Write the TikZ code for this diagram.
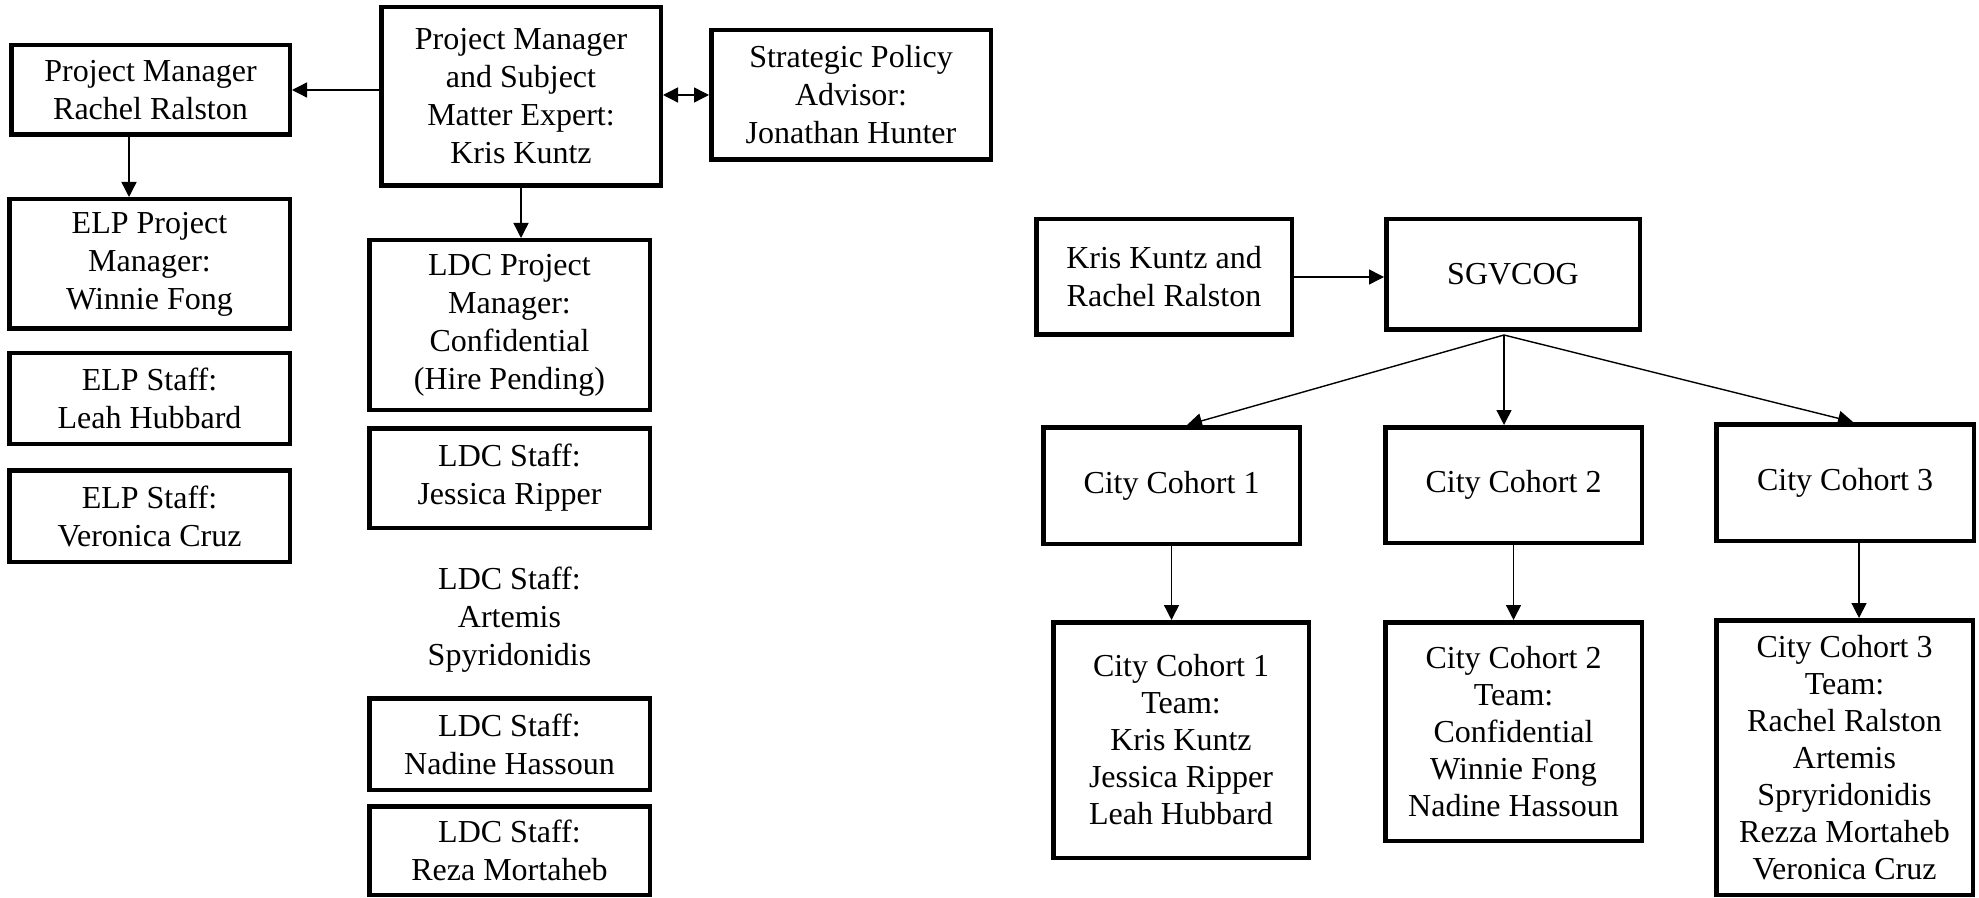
\documentclass[tikz,border=0pt]{standalone}
\usepackage{fontspec}
\setmainfont{Liberation Serif}
\usetikzlibrary{arrows.meta}
\begin{document}
\begin{tikzpicture}[x=0.5pt,y=-0.5pt,
  box/.style={draw=black, line width=2.25pt, inner sep=0pt, align=center,
    font=\fontsize{16pt}{19pt}\selectfont},
  plain/.style={inner sep=0pt, align=center, font=\fontsize{16pt}{19pt}\selectfont},
  teamtxt/.style={font=\fontsize{16pt}{18.5pt}\selectfont},
  arr/.style={line width=0.7pt, -{Triangle[length=7.5pt,width=7.5pt]}},
  dbl/.style={line width=0.7pt, {Triangle[length=7.5pt,width=7.5pt]}-{Triangle[length=7.5pt,width=7.5pt]}}]
\useasboundingbox (0,0) rectangle (1979,898);

% left hierarchy
\node[box, minimum width=139.25pt, minimum height=44.75pt] (rachel) at (150.5,90) {Project Manager\\Rachel Ralston};
\node[box, minimum width=139.75pt, minimum height=89.25pt] (kris) at (521,96.5) {Project Manager\\and Subject\\Matter Expert:\\Kris Kuntz};
\node[box, minimum width=139.75pt, minimum height=64.75pt] (strat) at (851,95) {Strategic Policy\\Advisor:\\Jonathan Hunter};

\node[box, minimum width=140.25pt, minimum height=64.75pt] (elppm) at (149.5,264) {ELP Project\\Manager:\\Winnie Fong};
\node[box, minimum width=140.25pt, minimum height=45.25pt] (elp1) at (149.5,398.5) {ELP Staff:\\Leah Hubbard};
\node[box, minimum width=140.25pt, minimum height=45.75pt] (elp2) at (149.5,516) {ELP Staff:\\Veronica Cruz};

\node[box, minimum width=140.25pt, minimum height=84.75pt] (ldcpm) at (509.5,325) {LDC Project\\Manager:\\Confidential\\(Hire Pending)};
\node[box, minimum width=140.25pt, minimum height=49.75pt] (ldc1) at (509.5,478) {LDC Staff:\\Jessica Ripper};
\node[plain] (ldc2) at (509.5,620) {LDC Staff:\\Artemis\\Spyridonidis};
\node[box, minimum width=140.25pt, minimum height=45.75pt] (ldc3) at (509.5,744) {LDC Staff:\\Nadine Hassoun};
\node[box, minimum width=140.25pt, minimum height=44.25pt] (ldc4) at (509.5,850.5) {LDC Staff:\\Reza Mortaheb};

\draw[arr] (rachel.east -| kris.west) -- (rachel.east);
\draw[dbl] (strat.west -| kris.east) -- (strat.west);
\draw[arr] ([xshift=-10.75pt]rachel.south) -- ([xshift=-10.75pt]rachel.south |- elppm.north);
\draw[arr] (kris.south) -- (kris.south |- ldcpm.north);

% right hierarchy
\node[box, minimum width=127.75pt, minimum height=57.75pt] (kr) at (1164,277) {Kris Kuntz and\\Rachel Ralston};
\node[box, minimum width=126.75pt, minimum height=55.25pt] (sgv) at (1513,274.5) {SGVCOG};
\node[box, minimum width=128.25pt, minimum height=58.25pt] (c1) at (1171.5,485.5) {City Cohort 1};
\node[box, minimum width=128.25pt, minimum height=57.75pt] (c2) at (1513.5,485) {City Cohort 2};
\node[box, minimum width=128.75pt, minimum height=58.25pt] (c3) at (1845,482.5) {City Cohort 3};
\node[box, teamtxt, minimum width=127.75pt, minimum height=117.75pt] (t1) at (1181,740) {City Cohort 1\\Team:\\Kris Kuntz\\Jessica Ripper\\Leah Hubbard};
\node[box, teamtxt, minimum width=128.25pt, minimum height=109.25pt] (t2) at (1513.5,731.5) {City Cohort 2\\Team:\\Confidential\\Winnie Fong\\Nadine Hassoun};
\node[box, teamtxt, minimum width=128.25pt, minimum height=137.25pt] (t3) at (1844.5,757.5) {City Cohort 3\\Team:\\Rachel Ralston\\Artemis\\Spryridonidis\\Rezza Mortaheb\\Veronica Cruz};

\coordinate (fan) at ([xshift=-4.5pt,yshift=-1.5pt]sgv.south);
\draw[arr] (kr.east) -- (kr.east -| sgv.west);
\draw[arr] (fan) -- ([xshift=7.75pt]c1.north);
\draw[arr] (fan) -- (fan |- c2.north);
\draw[arr] (fan) -- ([xshift=4pt]c3.north);
\draw[arr] (c1.south) -- (c1.south |- t1.north);
\draw[arr] (c2.south) -- (t2.north);
\draw[arr] ([xshift=7pt]c3.south) -- ([xshift=7pt]c3.south |- t3.north);
\end{tikzpicture}
\end{document}
